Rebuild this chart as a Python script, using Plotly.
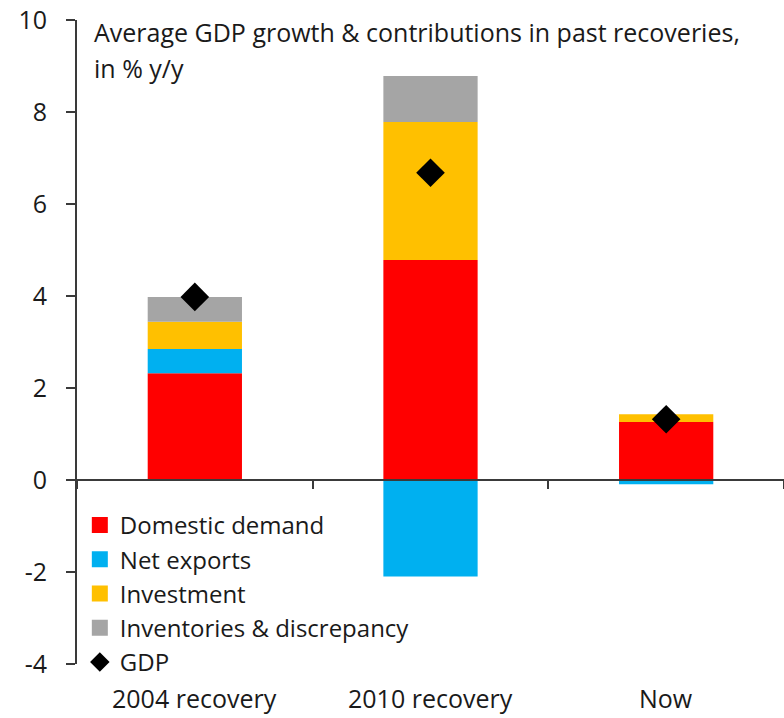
import plotly.graph_objects as go

categories = ["2004 recovery", "2010 recovery", "Now"]
domestic_demand = [2.32, 4.78, 1.26]
net_exports = [0.53, -2.10, -0.09]
investment = [0.59, 3.00, 0.17]
inventories = [0.54, 1.00, 0.0]
gdp = [3.98, 6.68, 1.32]

y_ticks = [-4, -2, 0, 2, 4, 6, 8, 10]
y_tick_labels = ["-4", "-2", "0", "2", "4", "6", "8", "10"]

FONT = "Open Sans"
TEXT = "#1a1a1a"
AXIS = "#3a3a3a"

fig = go.Figure()

series = [
    ("Domestic demand", domestic_demand, "#FF0000"),
    ("Net exports", net_exports, "#00B0F0"),
    ("Investment", investment, "#FFC000"),
    ("Inventories & discrepancy", inventories, "#A5A5A5"),
]
for name, vals, color in series:
    fig.add_trace(go.Bar(
        x=categories, y=vals, name=name,
        marker=dict(color=color, line=dict(width=0)),
        showlegend=False,
    ))

fig.add_trace(go.Scatter(
    x=categories, y=gdp, name="GDP", mode="markers",
    marker=dict(symbol="diamond", size=22, color="black"),
    showlegend=False,
))

# legend keys: larger square swatches for the bar series, diamond for GDP
for name, _, color in series:
    fig.add_trace(go.Scatter(
        x=[None], y=[None], name=name, mode="markers",
        marker=dict(symbol="square", size=16, color=color),
    ))
fig.add_trace(go.Scatter(
    x=[None], y=[None], name="GDP", mode="markers",
    marker=dict(symbol="diamond", size=15, color="black"),
))

fig.update_layout(
    width=784, height=718,
    margin=dict(l=77, r=0, t=20, b=54),
    paper_bgcolor="white", plot_bgcolor="white",
    barmode="relative", bargap=0.6,
    font=dict(family=FONT, size=25, color=TEXT),
    showlegend=True,
    legend=dict(
        x=0.004, y=0.25, xanchor="left", yanchor="top",
        traceorder="normal",
        font=dict(family=FONT, size=24, color=TEXT),
        bgcolor="rgba(0,0,0,0)",
    ),
    xaxis=dict(
        type="category", categoryorder="array", categoryarray=categories,
        range=[-0.5, 2.5],
        anchor="free", position=4 / 14,
        showline=True, linecolor=AXIS, linewidth=2,
        ticks="outside", tickson="boundaries", ticklen=8,
        tickcolor=AXIS, tickwidth=2,
        showticklabels=False, showgrid=False, zeroline=False,
    ),
    yaxis=dict(
        range=[-4, 10], tickvals=y_ticks, ticktext=y_tick_labels,
        showline=True, linecolor=AXIS, linewidth=2,
        ticks="outside", ticklen=9, tickcolor=AXIS, tickwidth=2,
        ticklabelstandoff=14,
        showgrid=False, zeroline=False,
        tickfont=dict(family=FONT, size=25, color=TEXT),
    ),
)

# category labels under the plot
for cat in categories:
    fig.add_annotation(
        x=cat, xref="x", y=0, yref="paper", yanchor="middle",
        yshift=-34, text=cat, showarrow=False,
        font=dict(family=FONT, size=25, color=TEXT),
    )

# two-line heading inside the plot area
title_lines = ["Average GDP growth & contributions in past recoveries,", "in % y/y"]
for i, line in enumerate(title_lines):
    fig.add_annotation(
        x=0.0212, xref="paper", xanchor="left",
        y=1, yref="paper", yanchor="middle", yshift=-12 - 36 * i,
        text=line, showarrow=False,
        font=dict(family=FONT, size=25, color=TEXT),
    )

fig.write_html("out.html")
